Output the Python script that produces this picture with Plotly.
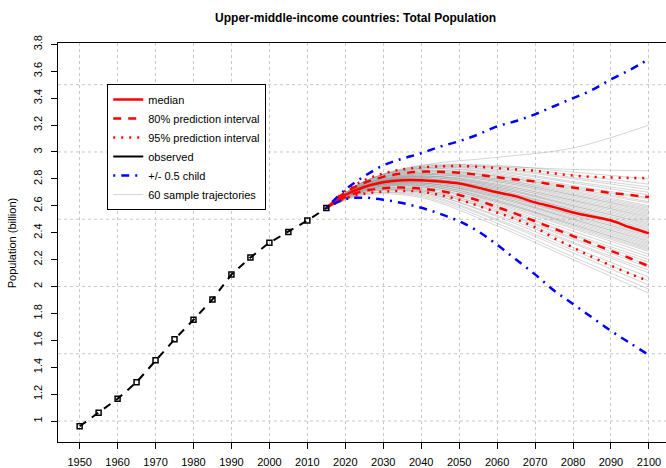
import plotly.graph_objects as go

# observed population (billion)
OBS_YEARS = [1950, 1955, 1960, 1965, 1970, 1975, 1980, 1985, 1990, 1995,
             2000, 2005, 2010, 2015]
OBS_POP = [0.961, 1.062, 1.165, 1.289, 1.452, 1.607, 1.753, 1.904, 2.089,
           2.215, 2.326, 2.405, 2.490, 2.583]

# projections, 5-year steps
PROJ_YEARS = list(range(2015, 2101, 5))
MEDIAN = [2.583, 2.68, 2.74, 2.775, 2.79, 2.79, 2.78, 2.765, 2.735, 2.70,
          2.67, 2.625, 2.59, 2.55, 2.52, 2.49, 2.44, 2.395]
PI80_UP = [2.583, 2.70, 2.77, 2.815, 2.84, 2.853, 2.852, 2.846, 2.83, 2.812,
           2.795, 2.78, 2.755, 2.735, 2.715, 2.695, 2.68, 2.665]
PI80_LO = [2.583, 2.665, 2.71, 2.73, 2.735, 2.728, 2.71, 2.68, 2.64, 2.59,
           2.54, 2.485, 2.43, 2.375, 2.32, 2.265, 2.21, 2.15]
PI95_UP = [2.583, 2.71, 2.79, 2.84, 2.87, 2.885, 2.893, 2.895, 2.89, 2.88,
           2.87, 2.86, 2.84, 2.825, 2.815, 2.81, 2.807, 2.805]
PI95_LO = [2.583, 2.655, 2.69, 2.705, 2.71, 2.705, 2.68, 2.645, 2.60, 2.55,
           2.50, 2.44, 2.36, 2.29, 2.22, 2.155, 2.095, 2.04]
HALF_CHILD_UP = [2.583, 2.72, 2.82, 2.90, 2.95, 2.99, 3.04, 3.08, 3.13, 3.19,
                 3.23, 3.28, 3.34, 3.40, 3.46, 3.54, 3.61, 3.69]
HALF_CHILD_LO = [2.583, 2.65, 2.66, 2.645, 2.62, 2.585, 2.54, 2.485, 2.41,
                 2.31, 2.20, 2.09, 1.97, 1.87, 1.77, 1.67, 1.58, 1.49]

# 60 sample trajectories (2025, 2040, 2060, 2080, 2100), all start at 2015 obs
TRAJ_YEARS = [2015, 2025, 2040, 2060, 2080, 2100]
TRAJECTORIES = [
    [2.78, 2.90, 2.96, 3.03, 3.20], [2.78, 2.88, 2.89, 2.87, 2.86],
    [2.78, 2.89, 2.90, 2.85, 2.80], [2.78, 2.90, 2.89, 2.83, 2.76],
    [2.78, 2.89, 2.88, 2.81, 2.74], [2.77, 2.88, 2.87, 2.80, 2.72],
    [2.78, 2.88, 2.86, 2.78, 2.70], [2.77, 2.87, 2.85, 2.77, 2.68],
    [2.76, 2.87, 2.84, 2.75, 2.66], [2.77, 2.86, 2.83, 2.74, 2.65],
    [2.76, 2.86, 2.82, 2.73, 2.63], [2.77, 2.85, 2.82, 2.72, 2.62],
    [2.76, 2.85, 2.81, 2.71, 2.60], [2.75, 2.84, 2.80, 2.70, 2.59],
    [2.76, 2.84, 2.80, 2.69, 2.58], [2.76, 2.84, 2.79, 2.68, 2.57],
    [2.75, 2.83, 2.79, 2.68, 2.56], [2.76, 2.83, 2.78, 2.67, 2.55],
    [2.75, 2.83, 2.78, 2.66, 2.54], [2.75, 2.82, 2.77, 2.65, 2.53],
    [2.76, 2.82, 2.76, 2.64, 2.52], [2.75, 2.82, 2.76, 2.64, 2.51],
    [2.74, 2.82, 2.75, 2.63, 2.50], [2.75, 2.81, 2.75, 2.62, 2.49],
    [2.75, 2.81, 2.74, 2.61, 2.48], [2.74, 2.81, 2.74, 2.60, 2.47],
    [2.75, 2.80, 2.73, 2.60, 2.46], [2.74, 2.80, 2.73, 2.59, 2.45],
    [2.74, 2.80, 2.72, 2.58, 2.44], [2.75, 2.80, 2.72, 2.57, 2.43],
    [2.74, 2.79, 2.71, 2.57, 2.42], [2.74, 2.79, 2.71, 2.56, 2.41],
    [2.73, 2.79, 2.70, 2.55, 2.40], [2.74, 2.79, 2.69, 2.54, 2.39],
    [2.74, 2.78, 2.69, 2.53, 2.38], [2.73, 2.78, 2.68, 2.53, 2.37],
    [2.74, 2.78, 2.68, 2.52, 2.36], [2.73, 2.77, 2.67, 2.51, 2.35],
    [2.73, 2.77, 2.67, 2.50, 2.34], [2.74, 2.77, 2.66, 2.50, 2.33],
    [2.73, 2.77, 2.66, 2.49, 2.32], [2.73, 2.76, 2.65, 2.48, 2.31],
    [2.72, 2.76, 2.64, 2.47, 2.30], [2.73, 2.76, 2.64, 2.46, 2.29],
    [2.72, 2.75, 2.63, 2.46, 2.28], [2.73, 2.75, 2.63, 2.45, 2.27],
    [2.72, 2.75, 2.62, 2.44, 2.26], [2.72, 2.74, 2.61, 2.43, 2.24],
    [2.72, 2.74, 2.60, 2.41, 2.22], [2.71, 2.73, 2.59, 2.39, 2.20],
    [2.72, 2.72, 2.58, 2.38, 2.18], [2.71, 2.72, 2.57, 2.36, 2.16],
    [2.71, 2.71, 2.56, 2.35, 2.14], [2.70, 2.71, 2.55, 2.33, 2.12],
    [2.71, 2.70, 2.53, 2.32, 2.10], [2.70, 2.70, 2.52, 2.29, 2.07],
    [2.70, 2.69, 2.50, 2.27, 2.04], [2.69, 2.68, 2.49, 2.25, 2.01],
    [2.69, 2.67, 2.47, 2.22, 1.98], [2.68, 2.66, 2.45, 2.20, 1.95],
]

X_TICKS = list(range(1950, 2101, 10))
Y_TICKS = [1.0, 1.2, 1.4, 1.6, 1.8, 2.0, 2.2, 2.4, 2.6, 2.8, 3.0, 3.2, 3.4, 3.6, 3.8]
Y_TICK_TEXT = ["1", "1.2", "1.4", "1.6", "1.8", "2", "2.2", "2.4", "2.6", "2.8",
               "3", "3.2", "3.4", "3.6", "3.8"]
Y_GRID = [1.0, 1.5, 2.0, 2.5, 3.0, 3.5]

FONT = "Arial, Liberation Sans, sans-serif"
RED = "#FF0000"
BLUE = "#0000FF"
GRAY = "rgba(150,150,150,0.4)"
GRID = "#C8C8C8"

fig = go.Figure()

for i, row in enumerate(TRAJECTORIES):
    fig.add_trace(go.Scatter(
        x=TRAJ_YEARS, y=[OBS_POP[-1]] + row, mode="lines",
        line=dict(color=GRAY, width=1, shape="spline"),
        name="60 sample trajectories", legendgroup="traj",
        showlegend=(i == 0), legendrank=6, hoverinfo="skip",
    ))

for ys, nm, dash, show in [
    (PI95_UP, "95% prediction interval", "2px,6px", True),
    (PI95_LO, "95% prediction interval", "2px,6px", False),
    (PI80_UP, "80% prediction interval", "8px,7px", True),
    (PI80_LO, "80% prediction interval", "8px,7px", False),
]:
    fig.add_trace(go.Scatter(
        x=PROJ_YEARS, y=ys, mode="lines", name=nm, legendgroup=nm,
        showlegend=show, legendrank=3 if nm.startswith("95") else 2,
        line=dict(color=RED, width=2.5, dash=dash, shape="spline"),
    ))

fig.add_trace(go.Scatter(
    x=PROJ_YEARS, y=MEDIAN, mode="lines", name="median", legendrank=1,
    line=dict(color=RED, width=2.5, shape="spline"),
))

for ys, show in [(HALF_CHILD_UP, True), (HALF_CHILD_LO, False)]:
    fig.add_trace(go.Scatter(
        x=PROJ_YEARS, y=ys, mode="lines", name="+/- 0.5 child",
        legendgroup="child", showlegend=show, legendrank=5,
        line=dict(color=BLUE, width=2.5, dash="2px,6px,8px,6px", shape="spline"),
    ))

fig.add_trace(go.Scatter(
    x=OBS_YEARS, y=OBS_POP, mode="lines+markers", showlegend=False,
    line=dict(color="black", width=2, dash="8px,7px"),
    marker=dict(symbol="square-open", size=5, color="black",
                line=dict(width=1.5, color="black")),
))
# legend entry for observed (solid line as in the original)
fig.add_trace(go.Scatter(
    x=[None], y=[None], mode="lines", name="observed", legendrank=4,
    line=dict(color="black", width=2),
))

for g in Y_GRID:
    fig.add_shape(type="line", xref="paper", x0=0, x1=1, yref="y", y0=g, y1=g,
                  line=dict(color=GRID, width=1, dash="dot"), layer="below")

fig.add_annotation(
    text="Population (billion)", textangle=-90, showarrow=False,
    xref="paper", x=-0.076, xanchor="center", yref="paper", y=0.5,
    yanchor="middle", font=dict(size=11, family=FONT),
)

fig.update_layout(
    width=666, height=468,
    margin=dict(l=58, r=0, t=43, b=26),
    plot_bgcolor="white", paper_bgcolor="white",
    font=dict(family=FONT, size=11, color="black"),
    title=dict(text="<b>Upper-middle-income countries: Total Population</b>",
               x=0.534, xanchor="center", y=0.963, yanchor="middle",
               font=dict(size=12, family=FONT, color="black")),
    legend=dict(x=0.081, y=0.897, xanchor="left", yanchor="top",
                bgcolor="white", bordercolor="black", borderwidth=1,
                font=dict(size=11, family=FONT), tracegroupgap=0,
                itemwidth=30),
    showlegend=True,
)
fig.update_xaxes(
    range=[1944.3, 2104.5], tickvals=X_TICKS, ticks="outside", ticklen=6,
    tickcolor="black", showline=True, linecolor="black", linewidth=1,
    mirror=True, showgrid=True, gridcolor=GRID, griddash="dot", gridwidth=1,
    zeroline=False, ticklabelstandoff=4, tickfont=dict(size=11),
    automargin=False,
)
fig.update_yaxes(
    range=[0.844, 3.81], tickvals=Y_TICKS, ticktext=Y_TICK_TEXT,
    ticks="outside", ticklen=6, tickcolor="black", tickangle=-90,
    showline=True, linecolor="black", linewidth=1, mirror=False,
    showgrid=False, zeroline=False, ticklabelstandoff=5,
    tickfont=dict(size=11), automargin=False,
)

# page body has a default 8px margin; remove it so the figure sits at (0, 0)
fig.write_html("out.html", config={"displayModeBar": False},
               post_script="document.body.style.margin='0';")
